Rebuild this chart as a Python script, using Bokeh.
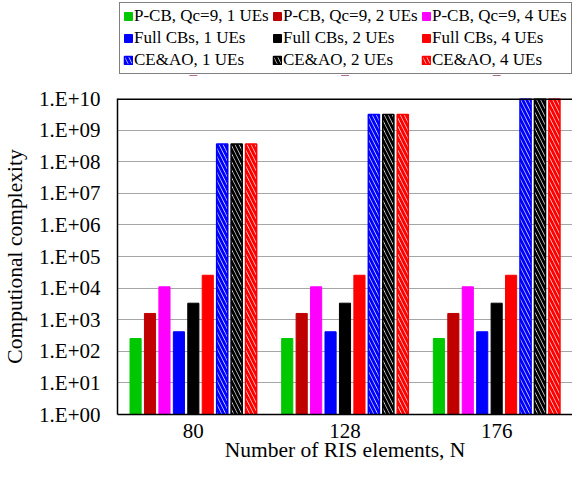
from bokeh.plotting import figure
from bokeh.layouts import column
from bokeh.models import (FactorRange, Range1d, FixedTicker, CustomJSTickFormatter,
                          Legend, LegendItem, Span, ColumnDataSource)
from bokeh.transform import dodge
from bokeh.embed import file_html
from bokeh.resources import INLINE

# ---- data ----
n_elements = ["80", "128", "176"]
pcb_1ue = [254, 254, 254]
pcb_2ue = [1575, 1575, 1575]
pcb_4ue = [10990, 10990, 10990]
full_1ue = [415, 415, 415]
full_2ue = [3330, 3330, 3330]
full_4ue = [25500, 25500, 25500]
ceao_1ue = [3.6e8, 3.1e9, 1.0e10]
ceao_2ue = [3.6e8, 3.1e9, 1.0e10]
ceao_4ue = [3.6e8, 3.1e9, 1.0e10]
y_ticks = [1e0, 1e1, 1e2, 1e3, 1e4, 1e5, 1e6, 1e7, 1e8, 1e9, 1e10]

series_labels = ["P-CB, Qc=9, 1 UEs", "P-CB, Qc=9, 2 UEs", "P-CB, Qc=9, 4 UEs",
                 "Full CBs, 1 UEs", "Full CBs, 2 UEs", "Full CBs, 4 UEs",
                 "CE&AO, 1 UEs", "CE&AO, 2 UEs", "CE&AO, 4 UEs"]
series_values = [pcb_1ue, pcb_2ue, pcb_4ue, full_1ue, full_2ue, full_4ue,
                 ceao_1ue, ceao_2ue, ceao_4ue]
series_colors = ["#00c800", "#c00000", "#ff00ff", "#0000ff", "#000000", "#ff0000",
                 "#0000ff", "#000000", "#ff0000"]
series_hatched = [False] * 6 + [True] * 3

FONT = "Liberation Serif"


def bar_style(col, hat):
    if hat:
        return dict(fill_color="white", line_color=col, line_width=1.5,
                    hatch_pattern="\\", hatch_color=col, hatch_scale=8, hatch_weight=3)
    return dict(fill_color=col, line_color=col, line_width=1)


# ---------------- main chart ----------------
p = figure(width=572, height=393,
           x_range=FactorRange(factors=n_elements, range_padding=0),
           y_axis_type="log", y_range=Range1d(1, 1e10),
           output_backend="svg", toolbar_location=None,
           min_border_left=114, min_border_right=0, min_border_top=22, min_border_bottom=55)
p.outline_line_color = None
p.background_fill_color = "white"
p.border_fill_color = "white"

pitch = 0.0952
bar_w = 0.0734
sources = []
for j, (lab, vals, col, hat) in enumerate(zip(series_labels, series_values, series_colors, series_hatched)):
    src = ColumnDataSource(dict(N=n_elements, top=vals))
    sources.append(src)
    off = (j - 4) * pitch
    p.vbar(x=dodge("N", off, range=p.x_range), top="top", bottom=1, width=bar_w,
           source=src, **bar_style(col, hat))

p.yaxis.ticker = FixedTicker(ticks=y_ticks, minor_ticks=[])
p.yaxis.formatter = CustomJSTickFormatter(code="""
const e = Math.round(Math.log10(tick));
return '1.E' + (e < 0 ? '-' : '+') + String(Math.abs(e)).padStart(2, '0');
""")
for ax in (p.yaxis[0], p.xaxis[0]):
    ax.major_tick_line_color = None
    ax.minor_tick_line_color = None
    ax.major_tick_out = 0
    ax.major_tick_in = 0
    ax.minor_tick_out = 0
    ax.minor_tick_in = 0
    ax.axis_line_color = "black"
    ax.axis_line_width = 1.5
    ax.major_label_text_font = FONT
    ax.major_label_text_font_size = "21px"
    ax.major_label_text_color = "black"
    ax.axis_label_text_font = FONT
    ax.axis_label_text_font_size = "21.5px"
    ax.axis_label_text_font_style = "normal"
    ax.axis_label_text_color = "black"
p.yaxis.major_label_standoff = 17
p.xaxis.major_label_standoff = 9
p.yaxis.axis_label = "Computional complexity"
p.yaxis.axis_label_standoff = 9
p.xaxis.axis_label = "Number of RIS elements, N"
p.xaxis.axis_label_standoff = -3

p.add_layout(Span(location=1e10, dimension="width", line_color="black", line_width=3))

p.xgrid.visible = False
p.ygrid.grid_line_color = "#a6a6a6"
p.ygrid.grid_line_width = 1

# ---------------- legend strip ----------------
# same series on a log range above all values, so the bars stay out of view
lg = figure(width=572, height=76, output_backend="svg", toolbar_location=None,
            x_range=FactorRange(factors=n_elements, range_padding=0),
            y_axis_type="log", y_range=Range1d(1e11, 1e12),
            x_axis_location=None, y_axis_location=None,
            min_border_left=0, min_border_right=0, min_border_top=0, min_border_bottom=0)
lg.outline_line_color = None
lg.grid.visible = False
lg.background_fill_color = "white"
lg.border_fill_color = "white"
proxies = []
for src, col, hat in zip(sources, series_colors, series_hatched):
    proxies.append(lg.vbar(x="N", top="top", bottom=1, width=0.05, source=src,
                           **bar_style(col, hat)))

order = [0, 3, 6, 1, 4, 7, 2, 5, 8]  # column-major for 3 columns
items = [LegendItem(label=series_labels[k], renderers=[proxies[k]]) for k in order]
legend = Legend(items=items, ncols=3, location=(2, 2),
                label_text_font=FONT, label_text_font_size="17px", label_text_color="black",
                glyph_width=10, glyph_height=10, label_standoff=1,
                label_height=20, label_width=136, spacing=2, padding=3, margin=0,
                border_line_color="black", border_line_width=1.2,
                background_fill_color="white", background_fill_alpha=1)
lg.add_layout(legend)

layout = column(lg, p, spacing=0)
open("out.html", "w").write(file_html(layout, INLINE))
